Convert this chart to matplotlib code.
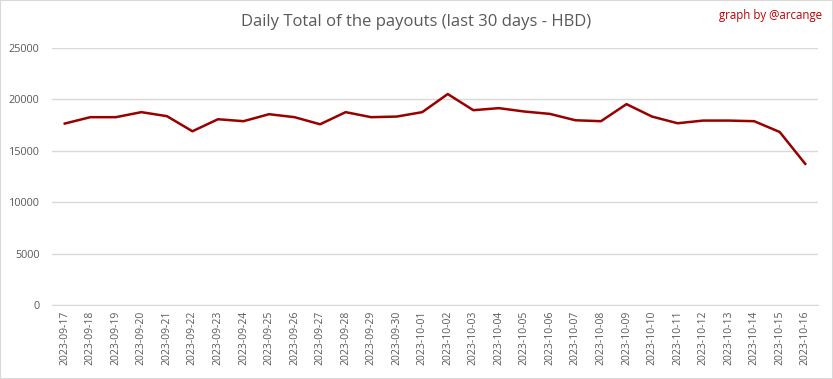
import numpy as np
import matplotlib
matplotlib.use("Agg")
import matplotlib.pyplot as plt
from matplotlib.patches import Rectangle

# data
dates = ["2023-09-17", "2023-09-18", "2023-09-19", "2023-09-20", "2023-09-21",
         "2023-09-22", "2023-09-23", "2023-09-24", "2023-09-25", "2023-09-26",
         "2023-09-27", "2023-09-28", "2023-09-29", "2023-09-30", "2023-10-01",
         "2023-10-02", "2023-10-03", "2023-10-04", "2023-10-05", "2023-10-06",
         "2023-10-07", "2023-10-08", "2023-10-09", "2023-10-10", "2023-10-11",
         "2023-10-12", "2023-10-13", "2023-10-14", "2023-10-15", "2023-10-16"]
payouts = [17650, 18270, 18270, 18760, 18370, 16900, 18070, 17880, 18560, 18270,
           17580, 18760, 18270, 18330, 18760, 20520, 18950, 19150, 18820, 18590,
           17970, 17880, 19540, 18330, 17680, 17940, 17940, 17880, 16830, 13730]
yticks = [0, 5000, 10000, 15000, 20000, 25000]

plt.rcParams['font.family'] = ['Open Sans', 'DejaVu Sans']

fig = plt.figure(figsize=(8.33, 3.79), dpi=100)
ax = fig.add_axes([52 / 833, 1 - 305 / 379, (818 - 52) / 833, (305 - 48) / 379])

x = np.arange(len(dates))
ax.plot(x, payouts, color="#990000", lw=1.8, solid_joinstyle="round")

ax.set_xlim(-0.5, len(dates) - 0.5)
ax.set_ylim(0, 25000)
ax.set_yticks(yticks)
ax.set_yticklabels([str(v) for v in yticks], fontsize=7.8, color="#595959")
ax.set_xticks(x)
ax.set_xticklabels(dates, rotation=90, fontsize=7.5, color="#595959")
ax.tick_params(length=0, pad=9)
ax.tick_params(axis='x', pad=4)
ax.grid(axis='y', color="#d9d9d9", lw=1)
ax.set_axisbelow(True)
for s in ["top", "right", "left"]:
    ax.spines[s].set_visible(False)
ax.spines["bottom"].set_color("#d9d9d9")

fig.text(0.5, 1 - 22 / 379, "Daily Total of the payouts (last 30 days - HBD)",
         ha="center", va="center", fontsize=12, color="#595959")
fig.text(1 - 11 / 833, 1 - 15 / 379, "graph by @arcange", ha="right", va="center",
         fontsize=8.3, color="#c00000")

fig.patches.append(Rectangle((0, 0), 1, 1, transform=fig.transFigure, fill=False,
                             edgecolor="#d9d9d9", lw=1.5))

fig.savefig("out.png", dpi=100)
